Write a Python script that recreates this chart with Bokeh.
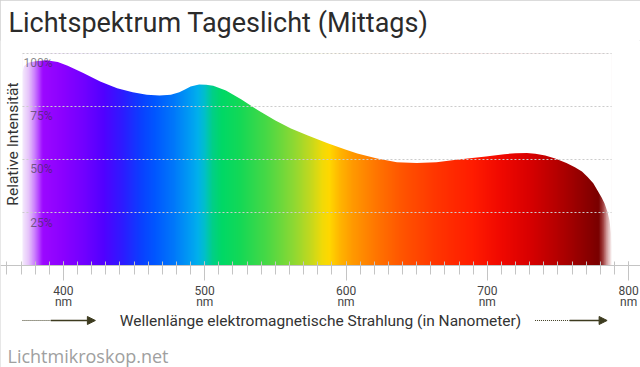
import numpy as np
from bokeh.plotting import figure
from bokeh.models import Range1d, FixedTicker, Label, Arrow, NormalHead
from bokeh.core.properties import value
from bokeh.embed import file_html
from bokeh.resources import INLINE

# ---------------- data ----------------
wavelength_nm = [371, 371, 372, 375, 380, 388, 396, 403, 414, 426, 438, 449, 459, 468,
                 476, 482, 486, 490, 496, 501, 506, 515, 526, 538, 550, 561, 573, 587,
                 600, 608, 622, 636, 650, 664, 678, 699, 712, 720, 728, 734, 741, 748,
                 756, 762, 767, 771, 775, 778, 781, 783, 785, 786.5, 787.5, 788, 788]
intensity_pct = [0, 91, 94, 95.6, 96.4, 96.8, 96.0, 94.2, 90.8, 86.8, 83.6, 81.7, 80.5, 80.2,
                 80.6, 81.7, 83.0, 84.4, 85.4, 85.3, 84.8, 82.5, 78.3, 73.1, 68.4, 64.6, 61.3, 57.7,
                 54.6, 52.8, 50.5, 48.7, 48.3, 48.7, 49.9, 51.4, 52.5, 53.0, 53.1, 52.7, 51.9, 50.5,
                 48.3, 46.4, 44.3, 41.7, 38.8, 35.4, 32.0, 29.2, 25.5, 21.2, 15.5, 8, 0]

x_major_ticks = [400, 500, 600, 700, 800]
x_tick_labels = ["400\nnm", "500\nnm", "600\nnm", "700\nnm", "800\nnm"]
x_minor_ticks = list(range(360, 801, 10))
y_ticks = [25, 50, 75, 100]
y_tick_labels = ["25%", "50%", "75%", "100%"]

title_text = "Lichtspektrum Tageslicht (Mittags)"
x_title = "Wellenlänge elektromagnetische Strahlung (in Nanometer)"
y_title = "Relative Intensität"
credit = "Lichtmikroskop.net"

# spectrum colour palette (style): wavelength -> colour
spectrum_nm = [371, 375, 379, 382, 385, 400, 415, 428, 442, 455, 465, 478, 488, 495, 500,
               505, 512, 525, 545, 562, 575, 583, 588, 595, 605, 620, 640, 665, 690, 710,
               730, 750, 768, 779, 782, 785, 788]
spectrum_col = ["#f4e8fc", "#e6c4fa", "#cf88fd", "#b64cff", "#9c08ff", "#8a00ff", "#7000ff",
                "#5200ff", "#2c1cff", "#0a40ff", "#0058ff", "#0078fa", "#0098f4", "#00b0ec",
                "#00c0c8", "#00cf8a", "#00d866", "#14d856", "#4cd844", "#8ad834", "#c4d81e",
                "#f0da08", "#ffd800", "#ffb800", "#ff9800", "#ff7800", "#ff5400", "#ff3400",
                "#ff1c00", "#f00800", "#d80000", "#b40000", "#900000", "#7a0000", "#a04040",
                "#d8a8a8", "#f8f0f0"]

# ---------------- figure ----------------
FONT = "Roboto"
W, H = 640, 367
TOP = 40
p = figure(width=W, height=H, output_backend="svg", toolbar_location=None,
           x_range=Range1d(355.44, 808.43), y_range=Range1d(-48.11, 106.13),
           y_axis_location=None,
           min_border_left=0, min_border_right=0, min_border_top=TOP, min_border_bottom=0,
           outline_line_color=None, background_fill_color="white", border_fill_color="white")
p.styles = {"outline": "1px solid #cfcfcf", "outline-offset": "-1px"}
p.xgrid.visible = False
p.ygrid.visible = False

p.title.text = title_text
p.title.text_font = FONT
p.title.text_font_size = "27px"
p.title.text_font_style = "normal"
p.title.text_color = "#2b2b2b"
p.title.align = "left"
p.title.offset = 8
p.title.standoff = 3

# spectrum gradient image, masked above the curve
wl0, wl1 = wavelength_nm[0], wavelength_nm[-1]
top = max(intensity_pct) + 3
ncol = 900
cols = np.linspace(wl0, wl1, ncol)
rgb = np.array([[int(c[i:i + 2], 16) for i in (1, 3, 5)] for c in spectrum_col], dtype=float)
img = np.empty((1, ncol), dtype=np.uint32)
view = img.view(dtype=np.uint8).reshape((1, ncol, 4))
for k in range(3):
    view[0, :, k] = np.round(np.interp(cols, spectrum_nm, rgb[:, k])).astype(np.uint8)
view[0, :, 3] = 255
p.image_rgba(image=[img], x=wl0, y=0, dw=wl1 - wl0, dh=top)

p.patch(x=wavelength_nm + [wl1, wl0], y=intensity_pct + [top, top],
        fill_color="white", line_color=None)

# dotted horizontal grid
p.segment(x0=[wl0] * len(y_ticks), y0=y_ticks, x1=[wl1] * len(y_ticks), y1=y_ticks,
          line_color="#cccccc", line_width=1, line_dash="2 2")

# percentage labels inside the plot
p.text(x=[wl0] * len(y_ticks), y=y_ticks, text=y_tick_labels,
       text_font=value(FONT), text_font_size="12px", text_color="#333333", text_alpha=0.6,
       text_align="right", text_baseline="alphabetic", x_offset=30, y_offset=10)

# x axis, drawn at intensity 0 inside the frame
ax = p.xaxis[0]
ax.fixed_location = 0
ax.ticker = FixedTicker(ticks=x_major_ticks, minor_ticks=x_minor_ticks)
ax.major_label_overrides = dict(zip(x_major_ticks, x_tick_labels))
ax.axis_line_color = "#c4c4c4"
ax.major_tick_line_color = "#c4c4c4"
ax.minor_tick_line_color = "#c4c4c4"
ax.major_tick_out = 15
ax.major_tick_in = 4
ax.minor_tick_out = 9
ax.minor_tick_in = 4
ax.major_label_text_font = FONT
ax.major_label_text_font_size = "12px"
ax.major_label_text_color = "#444444"
ax.major_label_text_line_height = 0.8
ax.major_label_standoff = 3
ax.axis_label = x_title
ax.axis_label_text_font = FONT
ax.axis_label_text_font_size = "15.5px"
ax.axis_label_text_font_style = "normal"
ax.axis_label_text_color = "#333333"
ax.axis_label_standoff = 0

# y-axis title
p.add_layout(Label(x=12, y=H - TOP - 103.5, x_units="screen", y_units="screen", text=y_title,
                   angle=90, angle_units="deg", text_align="center", text_baseline="middle",
                   text_font=FONT, text_font_size="15.5px", text_color="#333333"))

# direction arrows beside the axis title
ARROW_Y = -25.94
ARROW_C = "#3d3b1f"
for d0, d1, s1 in [(wl0, 391, 422.6), (733.8, 758.3, 784.8)]:
    p.segment(x0=[d0], y0=[ARROW_Y], x1=[d1], y1=[ARROW_Y],
              line_color=ARROW_C, line_width=1, line_dash="1 1")
    p.add_layout(Arrow(end=NormalHead(size=8, fill_color=ARROW_C, line_color=ARROW_C),
                       x_start=d1, y_start=ARROW_Y, x_end=s1, y_end=ARROW_Y,
                       line_color=ARROW_C, line_width=1.3))

# credit
p.add_layout(Label(x=7, y=12, x_units="screen", y_units="screen", text=credit,
                   text_font="Open Sans", text_font_size="18px", text_color="#a0a0a0",
                   text_baseline="alphabetic"))

open("out.html", "w").write(file_html(p, INLINE))
